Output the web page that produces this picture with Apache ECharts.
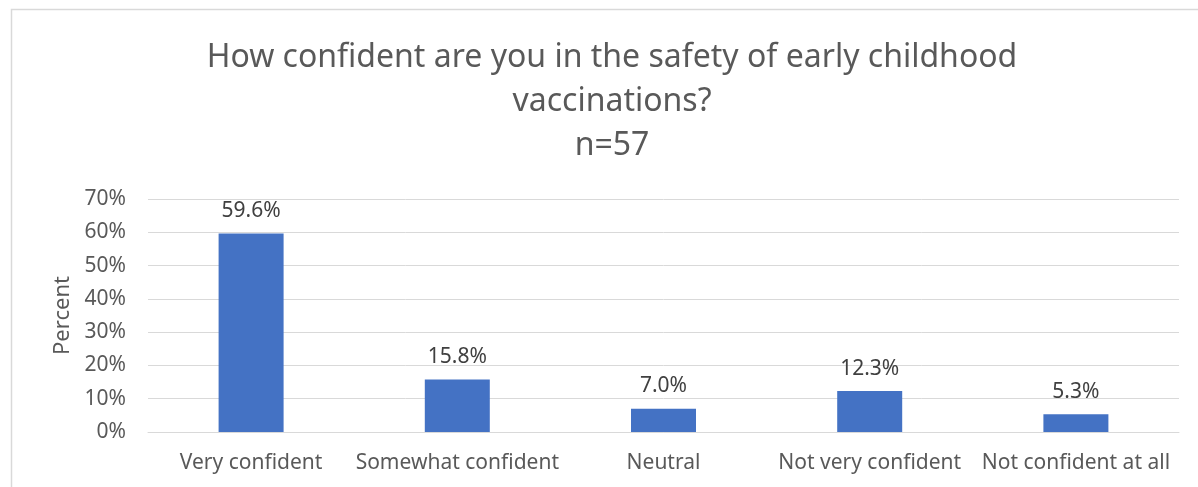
<!DOCTYPE html>
<html>
<head>
<meta charset="utf-8">
<script src="https://cdn.jsdelivr.net/npm/echarts@6/dist/echarts.min.js"></script>
<style>
  html, body { margin: 0; padding: 0; background: #fff; }
  #chart { width: 1198px; height: 487px; }
</style>
</head>
<body>
<div id="chart"></div>
<script>
const categories = ['Very confident', 'Somewhat confident', 'Neutral', 'Not very confident', 'Not confident at all']
const percents = [59.6, 15.8, 7.0, 12.3, 5.3]
const titleLines = ['How confident are you in the safety of early childhood', 'vaccinations?', 'n=57']

const myChart = echarts.init(document.getElementById('chart'))
myChart.setOption({
  animation: false,
  textStyle: { fontFamily: 'Noto Sans' },
  graphic: [
    {
      type: 'rect',
      shape: { x: 11.5, y: 9.5, width: 1300, height: 600 },
      style: { fill: 'none', stroke: '#d9d9d9', lineWidth: 1.5 },
      silent: true
    }
  ],
  title: {
    text: titleLines.join('\n'),
    left: 607,
    top: 31,
    textAlign: 'center',
    textStyle: {
      fontFamily: 'Noto Sans',
      fontSize: 32,
      fontWeight: 'normal',
      color: '#595959',
      lineHeight: 44
    }
  },
  grid: {
    left: 148,
    right: 19,
    top: 199,
    bottom: 55
  },
  xAxis: {
    type: 'category',
    data: categories,
    axisLine: { lineStyle: { color: '#d9d9d9' } },
    axisTick: { show: false },
    axisLabel: {
      interval: 0,
      color: '#595959',
      fontSize: 21,
      margin: 21
    }
  },
  yAxis: {
    type: 'value',
    min: 0,
    max: 70,
    interval: 10,
    name: 'Percent',
    nameLocation: 'middle',
    nameGap: 74,
    nameTextStyle: { color: '#595959', fontSize: 22 },
    axisLine: { show: false },
    axisTick: { show: false },
    axisLabel: {
      color: '#595959',
      fontSize: 21,
      margin: 22,
      formatter: '{value}%'
    },
    splitLine: { lineStyle: { color: '#d9d9d9', width: 1 } }
  },
  series: [
    {
      type: 'bar',
      data: percents,
      barWidth: 65,
      itemStyle: { color: '#4472C4' },
      label: {
        show: true,
        position: 'top',
        distance: 12,
        color: '#404040',
        fontSize: 21,
        formatter: p => p.value.toFixed(1) + '%'
      }
    }
  ]
})
</script>
</body>
</html>
